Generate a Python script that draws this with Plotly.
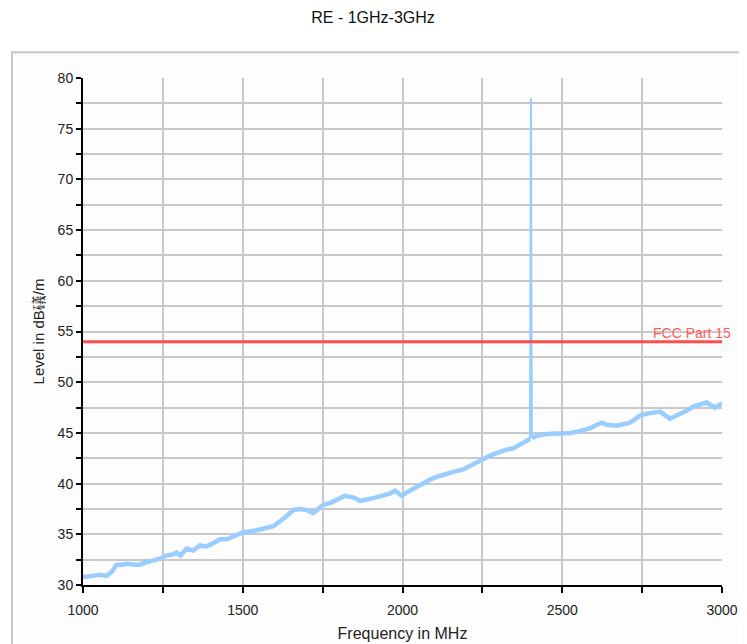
import plotly.graph_objects as go

freq_mhz = [1000, 1015, 1030, 1053, 1074, 1090, 1105, 1120, 1140, 1160, 1178, 1195, 1210,
            1241, 1260, 1280, 1293, 1305, 1324, 1345, 1366, 1385, 1400, 1429, 1450, 1470,
            1502, 1530, 1554, 1575, 1596, 1630, 1658, 1680, 1700, 1721, 1752, 1775, 1794,
            1820, 1850, 1867, 1900, 1930, 1960, 1977, 1997, 2023, 2050, 2086, 2110, 2138,
            2165, 2190, 2215, 2243, 2270, 2295, 2320, 2347, 2378, 2399, 2401, 2402, 2403,
            2404, 2405, 2420, 2451, 2493, 2524, 2545, 2566, 2590, 2608, 2625, 2639, 2670,
            2712, 2743, 2764, 2790, 2806, 2837, 2868, 2890, 2910, 2952, 2978, 3000]
level_dbuv = [30.8, 30.9, 30.9, 31.0, 30.9, 31.3, 32.0, 32.0, 32.1, 32.0, 32.0, 32.2, 32.3,
              32.6, 32.9, 33.0, 33.2, 32.9, 33.6, 33.4, 33.9, 33.8, 34.0, 34.5, 34.5, 34.8,
              35.2, 35.3, 35.5, 35.6, 35.8, 36.6, 37.4, 37.5, 37.4, 37.1, 37.9, 38.1, 38.4,
              38.8, 38.6, 38.3, 38.5, 38.7, 39.0, 39.3, 38.8, 39.3, 39.8, 40.4, 40.7, 41.0,
              41.2, 41.4, 41.8, 42.3, 42.7, 43.0, 43.3, 43.5, 44.0, 44.4, 78.0, 78.0, 62.0,
              45.0, 44.5, 44.7, 44.9, 44.9, 45.0, 45.1, 45.3, 45.5, 45.8, 46.0, 45.8, 45.7,
              46.0, 46.7, 46.9, 47.0, 47.1, 46.4, 46.8, 47.2, 47.6, 48.0, 47.5, 47.9]

limit_freq = [1000, 3000]
limit_level = [54, 54]
limit_name = "FCC Part 15"

# index range of the narrow carrier spike (drawn with a thinner stroke)
i0 = freq_mhz.index(2399)
i1 = freq_mhz.index(2405)

fig = go.Figure()
trace_color = "#99ccff"
fig.add_trace(go.Scatter(x=freq_mhz[:i0 + 1], y=level_dbuv[:i0 + 1], mode="lines",
                         line=dict(color=trace_color, width=4.5), showlegend=False))
fig.add_trace(go.Scatter(x=freq_mhz[i0:i1 + 1], y=level_dbuv[i0:i1 + 1], mode="lines",
                         line=dict(color=trace_color, width=2), showlegend=False))
fig.add_trace(go.Scatter(x=freq_mhz[i1:], y=level_dbuv[i1:], mode="lines",
                         line=dict(color=trace_color, width=4.5), showlegend=False))
fig.add_trace(go.Scatter(x=limit_freq, y=limit_level, mode="lines",
                         line=dict(color="#ff4d4d", width=3), showlegend=False))

fig.add_annotation(x=limit_freq[-1], y=limit_level[-1], text=limit_name, showarrow=False,
                   xanchor="right", yanchor="bottom", xshift=11, yshift=-1,
                   font=dict(color="#ff5a5a", size=14, family="Liberation Sans, Arial"))

# page body adds an 8px offset; layout below is compensated for it
L, T, W, H = 75, 70, 639, 510

# outer frame
fig.add_shape(type="rect", xref="paper", yref="paper",
              x0=(4 - L) / W, x1=(760 - L) / W,
              y0=-(H + 80) / H, y1=(H + 26) / H,
              line=dict(color="#c8c8c8", width=2), fillcolor="#fdfdfd", layer="below")

grid_color = "#c8c8c8"
fig.update_layout(
    width=747, height=644,
    margin=dict(l=L, r=747 - L - W, t=T, b=644 - T - H),
    paper_bgcolor="white", plot_bgcolor="white",
    font=dict(family="Liberation Sans, Arial", color="#222222", size=13),
    title=dict(text="RE - 1GHz-3GHz", x=(373 - 8) / 747, xref="container", xanchor="center",
               y=1 - 9 / 644, yref="container", yanchor="middle",
               font=dict(size=16, color="#111111")),
    xaxis=dict(range=[1000, 3000], dtick=500, tick0=1000, showgrid=True, gridcolor=grid_color,
               gridwidth=1.5, showline=True, linecolor="black", linewidth=2,
               ticks="outside", ticklen=6, tickwidth=1.5, tickcolor="black",
               ticklabelstandoff=5,
               minor=dict(dtick=250, tick0=1000, ticks="outside", ticklen=6, tickwidth=1.5,
                          tickcolor="black", showgrid=True, gridcolor=grid_color, gridwidth=1.5),
               title=dict(text="Frequency in MHz", font=dict(size=16), standoff=11),
               zeroline=False, tickfont=dict(size=14)),
    yaxis=dict(range=[30, 80], dtick=5, tick0=30, showgrid=True, gridcolor=grid_color,
               gridwidth=1.5, showline=True, linecolor="black", linewidth=2,
               ticks="outside", ticklen=5, tickwidth=1.5, tickcolor="black",
               ticklabelstandoff=0,
               minor=dict(dtick=2.5, tick0=30, ticks="outside", ticklen=5, tickwidth=1.5,
                          tickcolor="black", showgrid=True, gridcolor=grid_color, gridwidth=1.5),
               title=dict(text="Level in dB礒/m", font=dict(size=15), standoff=9),
               zeroline=False, tickfont=dict(size=14)),
)

fig.write_html("out.html")
